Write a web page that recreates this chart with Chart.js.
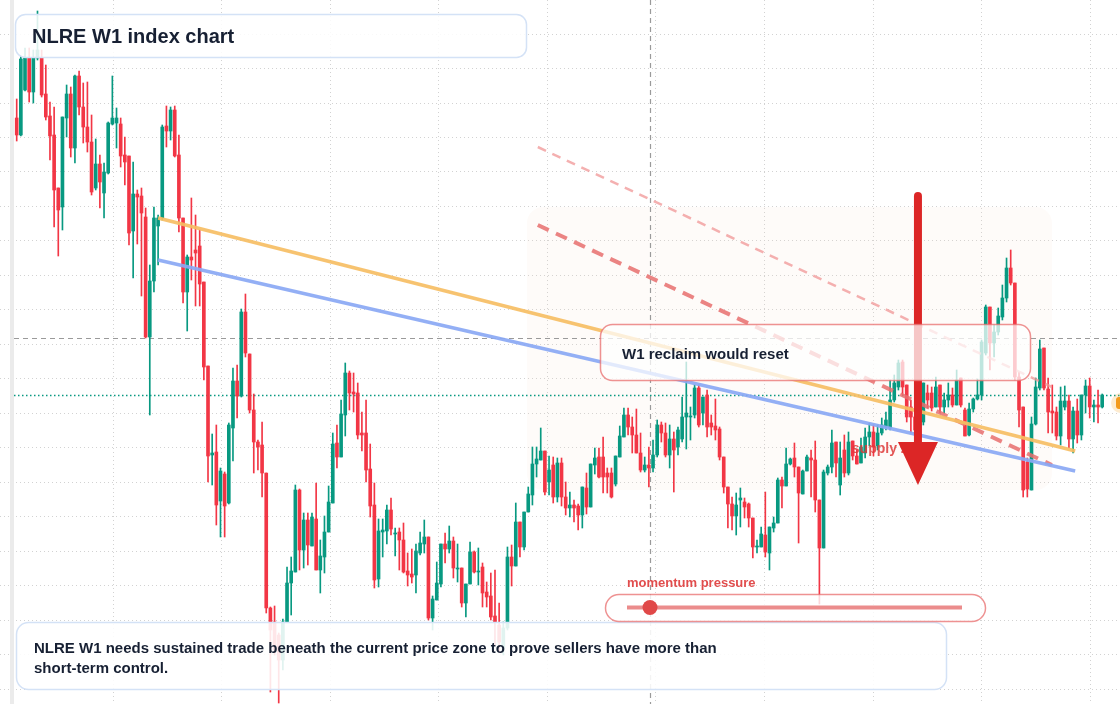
<!DOCTYPE html>
<html>
<head>
<meta charset="utf-8">
<title>NLRE W1 index chart</title>
<script src="https://cdn.jsdelivr.net/npm/chart.js@4.4.1/dist/chart.umd.min.js"></script>
<style>
  html, body { margin: 0; padding: 0; background: #fff; }
  #wrap { position: relative; width: 1120px; height: 704px; }
</style>
</head>
<body>
<div id="wrap"><canvas id="chart"></canvas></div>
<script>
// weekly candles, index level (one value per week, oldest first)
var opens = [
  882, 865, 910, 942, 908, 942, 942, 906, 884, 865,
  812, 793, 882, 906, 852, 924, 893, 873, 858, 812,
  836, 807, 827, 876, 877, 876, 845, 844, 769, 806,
  804, 783, 663, 719, 774, 782, 874, 869, 890, 845,
  782, 708, 743, 750, 754, 718, 634, 545, 548, 499,
  526, 497, 572, 619, 604, 688, 646, 590, 558, 555,
  527, 392, 378, 365, 340, 378, 417, 428, 510, 450,
  480, 454, 481, 430, 443, 468, 497, 557, 543, 585,
  627, 608, 607, 567, 567, 531, 495, 421, 468, 469,
  490, 466, 468, 460, 429, 426, 425, 447, 456, 463,
  382, 400, 416, 456, 451, 459, 431, 432, 397, 416,
  448, 428, 433, 408, 404, 384, 375, 352, 372, 443,
  434, 478, 453, 488, 505, 536, 540, 549, 518, 535,
  503, 537, 503, 492, 495, 494, 485, 512, 493, 535,
  543, 543, 527, 527, 516, 543, 563, 585, 573, 565,
  547, 530, 535, 532, 545, 575, 567, 545, 561, 553,
  561, 583, 583, 585, 612, 587, 605, 577, 574, 571,
  543, 513, 496, 484, 500, 498, 496, 482, 453, 453,
  465, 447, 472, 477, 520, 514, 536, 542, 533, 506,
  529, 542, 540, 500, 452, 527, 533, 558, 515, 550,
  527, 559, 544, 537, 547, 563, 568, 554, 567, 573,
  572, 600, 613, 638, 615, 593, 583, 570, 578, 607,
  607, 593, 615, 593, 600, 605, 595, 622, 590, 565,
  591, 601, 605, 647, 693, 657, 668, 683, 702, 732,
  717, 623, 593, 538, 510, 576, 612, 652, 611, 589,
  588, 564, 593, 599, 561, 589, 565, 605, 614, 593,
  595, 593
];
var highs = [
  901, 944, 952, 952, 950, 989, 950, 935, 898, 893,
  812, 883, 915, 913, 925, 929, 917, 918, 885, 861,
  845, 837, 878, 924, 892, 882, 863, 844, 838, 810,
  812, 792, 735, 793, 785, 875, 894, 893, 894, 865,
  782, 745, 802, 785, 770, 718, 634, 566, 575, 532,
  528, 577, 632, 635, 691, 706, 646, 606, 560, 578,
  527, 393, 394, 367, 381, 433, 443, 515, 511, 487,
  487, 487, 517, 460, 484, 514, 567, 575, 600, 637,
  629, 627, 617, 588, 600, 556, 517, 481, 481, 495,
  502, 472, 472, 477, 447, 451, 456, 468, 480, 463,
  404, 438, 456, 467, 474, 463, 456, 432, 416, 458,
  449, 452, 437, 418, 427, 430, 397, 378, 453, 455,
  497, 478, 488, 513, 553, 553, 572, 549, 544, 543,
  542, 542, 518, 508, 500, 496, 513, 527, 536, 552,
  552, 563, 532, 532, 544, 574, 592, 592, 583, 591,
  567, 543, 553, 560, 580, 578, 577, 575, 568, 573,
  603, 638, 593, 615, 615, 603, 610, 585, 601, 573,
  543, 513, 503, 507, 512, 502, 497, 482, 460, 473,
  508, 473, 483, 522, 523, 552, 542, 557, 533, 530,
  545, 550, 559, 500, 530, 535, 570, 558, 558, 565,
  568, 559, 550, 562, 572, 577, 575, 575, 582, 588,
  620, 625, 640, 640, 615, 600, 590, 588, 617, 615,
  613, 623, 615, 607, 617, 612, 630, 622, 592, 597,
  602, 621, 660, 695, 693, 675, 692, 715, 742, 750,
  717, 628, 593, 542, 583, 622, 660, 652, 622, 615,
  593, 613, 614, 605, 593, 601, 605, 620, 622, 600,
  610, 606
];
var lows = [
  859, 864, 909, 898, 897, 940, 903, 880, 840, 773,
  744, 770, 863, 843, 837, 885, 857, 848, 805, 810,
  792, 782, 826, 875, 852, 833, 815, 755, 722, 756,
  704, 662, 585, 708, 735, 780, 853, 860, 843, 768,
  697, 669, 720, 694, 694, 620, 518, 515, 475, 463,
  463, 496, 539, 582, 603, 643, 587, 527, 530, 503,
  387, 308, 345, 297, 330, 378, 385, 428, 430, 432,
  435, 454, 430, 407, 427, 468, 497, 532, 543, 564,
  590, 588, 561, 549, 518, 483, 412, 413, 443, 456,
  465, 444, 430, 427, 414, 417, 407, 445, 447, 380,
  370, 400, 413, 437, 447, 422, 418, 393, 383, 416,
  427, 415, 393, 393, 380, 355, 348, 345, 370, 414,
  434, 443, 450, 488, 495, 523, 540, 505, 505, 497,
  498, 494, 485, 483, 478, 470, 472, 486, 493, 526,
  522, 507, 507, 502, 514, 543, 563, 565, 547, 547,
  528, 528, 513, 528, 543, 558, 543, 532, 508, 545,
  558, 551, 560, 582, 573, 575, 563, 565, 560, 540,
  507, 472, 470, 465, 473, 482, 473, 442, 447, 453,
  443, 430, 468, 477, 492, 514, 535, 523, 457, 506,
  529, 503, 488, 396, 452, 525, 527, 523, 505, 523,
  525, 540, 536, 537, 542, 554, 544, 550, 565, 570,
  570, 598, 610, 605, 578, 567, 555, 565, 575, 592,
  589, 593, 587, 587, 593, 593, 595, 593, 564, 564,
  588, 600, 600, 645, 630, 643, 665, 680, 698, 715,
  620, 573, 503, 503, 510, 575, 610, 610, 567, 567,
  560, 555, 590, 552, 547, 557, 560, 587, 582, 578,
  577, 592
];
var closes = [
  865, 941, 942, 908, 942, 950, 905, 883, 864, 810,
  790, 883, 906, 852, 924, 893, 873, 858, 808, 836,
  818, 828, 877, 882, 882, 844, 838, 767, 806, 803,
  787, 663, 719, 782, 782, 873, 869, 890, 844, 782,
  708, 743, 740, 747, 716, 633, 544, 547, 495, 529,
  494, 575, 619, 604, 688, 647, 590, 558, 553, 527,
  392, 370, 350, 340, 378, 417, 429, 510, 450, 480,
  455, 483, 430, 444, 468, 498, 556, 543, 586, 627,
  607, 606, 565, 565, 530, 494, 420, 469, 470, 490,
  471, 467, 460, 428, 425, 423, 449, 457, 463, 382,
  401, 417, 456, 451, 459, 432, 432, 397, 416, 448,
  428, 429, 407, 403, 383, 378, 358, 372, 443, 434,
  478, 453, 488, 506, 536, 541, 549, 508, 530, 503,
  537, 503, 492, 495, 492, 485, 513, 493, 536, 542,
  523, 523, 523, 503, 544, 564, 585, 573, 565, 547,
  530, 535, 532, 545, 575, 567, 545, 561, 550, 570,
  583, 587, 584, 612, 575, 603, 573, 573, 570, 543,
  513, 496, 484, 495, 502, 493, 482, 453, 454, 466,
  448, 473, 477, 520, 514, 536, 541, 533, 507, 529,
  543, 540, 500, 452, 528, 533, 557, 537, 542, 527,
  558, 544, 536, 553, 563, 568, 553, 567, 575, 580,
  600, 617, 637, 613, 583, 583, 570, 580, 617, 600,
  592, 613, 593, 600, 605, 595, 620, 595, 564, 591,
  601, 605, 658, 693, 657, 668, 684, 702, 732, 717,
  623, 590, 510, 511, 576, 613, 651, 612, 588, 587,
  564, 599, 599, 561, 589, 565, 605, 614, 593, 595,
  593, 605
];

// drawn studies: [week, level] end points
var orangeTrend = [[34.0, 782], [254.5, 549]];
var blueTrend = [[34.0, 740], [254.5, 529]];
var upperDash = [[125.3, 853], [248.9, 613]];
var lowerDash = [[125.3, 775], [248.9, 535]];
var supplyZone = [122.7, 248.9, 510, 793];   // week from, week to, low, high
var crossAt = [152.3, 662];                  // week, level
var arrowAt = [216.7, 804, 558, 515];        // week, top, head base, tip
var supplyLabelAt = [200.8, 547];
var lastMarkLevel = 597;

var titleText = 'NLRE W1 index chart';
var calloutText = 'W1 reclaim would reset';
var gaugeText = 'momentum pressure';
var supplyText = 'supply zone';
var noteLines = [
  'NLRE W1 needs sustained trade beneath the current price zone to prove sellers have more than',
  'short-term control.'
];

var UP = '#089981';
var DOWN = '#f23645';
var FONT = '"Liberation Sans", Arial, sans-serif';

var bodies = [], wicks = [], candleColors = [];
for (var i = 0; i < closes.length; i++) {
  bodies.push({x: i, y: [opens[i], closes[i]]});
  wicks.push({x: i, y: [lows[i], highs[i]]});
  candleColors.push(closes[i] >= opens[i] ? UP : DOWN);
}

function pts(a) {
  return a.map(function (p) { return {x: p[0], y: p[1]}; });
}

function rr(ctx, x, y, w, h, r) {
  ctx.beginPath();
  ctx.moveTo(x + r, y);
  ctx.arcTo(x + w, y, x + w, y + h, r);
  ctx.arcTo(x + w, y + h, x, y + h, r);
  ctx.arcTo(x, y + h, x, y, r);
  ctx.arcTo(x, y, x + w, y, r);
  ctx.closePath();
}

var decor = {
  id: 'decor',
  beforeDatasetsDraw: function (chart) {
    var ctx = chart.ctx, xs = chart.scales.x, ys = chart.scales.y, a = chart.chartArea;
    ctx.save();
    // left rail
    ctx.fillStyle = '#ebebeb';
    ctx.fillRect(10, a.top, 4, a.bottom - a.top);

    // faint supply area
    var zx0 = xs.getPixelForValue(supplyZone[0]), zx1 = xs.getPixelForValue(supplyZone[1]);
    var zy0 = ys.getPixelForValue(supplyZone[3]), zy1 = ys.getPixelForValue(supplyZone[2]);
    rr(ctx, zx0, zy0, zx1 - zx0, zy1 - zy0, 16);
    ctx.fillStyle = 'rgba(244,222,205,0.12)';
    ctx.fill();

    // crosshair
    ctx.setLineDash([5, 4]);
    ctx.strokeStyle = '#9a9a9a';
    ctx.lineWidth = 1.2;
    var cx = Math.round(xs.getPixelForValue(crossAt[0])) + 0.5;
    ctx.beginPath(); ctx.moveTo(cx, a.top); ctx.lineTo(cx, a.bottom); ctx.stroke();
    var cy = Math.round(ys.getPixelForValue(crossAt[1])) + 0.5;
    ctx.beginPath(); ctx.moveTo(14, cy); ctx.lineTo(a.right, cy); ctx.stroke();

    // last close line
    var ly = Math.round(ys.getPixelForValue(closes[closes.length - 1])) + 0.5;
    ctx.setLineDash([1.5, 2.5]);
    ctx.strokeStyle = UP;
    ctx.lineWidth = 1.5;
    ctx.beginPath(); ctx.moveTo(14, ly); ctx.lineTo(a.right, ly); ctx.stroke();
    ctx.restore();
  },
  afterDatasetsDraw: function (chart) {
    var ctx = chart.ctx, xs = chart.scales.x, ys = chart.scales.y, a = chart.chartArea;
    ctx.save();

    // supply label
    ctx.font = 'bold 14px ' + FONT;
    ctx.fillStyle = 'rgba(222,58,58,0.85)';
    ctx.textBaseline = 'alphabetic';
    ctx.fillText(supplyText, xs.getPixelForValue(supplyLabelAt[0]), ys.getPixelForValue(supplyLabelAt[1]));

    // big arrow
    var ax = xs.getPixelForValue(arrowAt[0]);
    var aTop = ys.getPixelForValue(arrowAt[1]);
    var aBase = ys.getPixelForValue(arrowAt[2]);
    var aTip = ys.getPixelForValue(arrowAt[3]);
    ctx.strokeStyle = '#dc2626';
    ctx.lineWidth = 8;
    ctx.lineCap = 'round';
    ctx.beginPath(); ctx.moveTo(ax, aTop); ctx.lineTo(ax, aBase + 4); ctx.stroke();
    ctx.fillStyle = '#dc2626';
    ctx.beginPath();
    ctx.moveTo(ax - 20, aBase); ctx.lineTo(ax + 20, aBase); ctx.lineTo(ax, aTip);
    ctx.closePath(); ctx.fill();

    // callout
    rr(ctx, 600.5, 324.5, 430, 56, 12);
    ctx.fillStyle = 'rgba(255,255,255,0.74)';
    ctx.fill();
    ctx.strokeStyle = 'rgba(232,110,110,0.75)';
    ctx.lineWidth = 1.5;
    ctx.stroke();
    ctx.font = 'bold 15px ' + FONT;
    ctx.fillStyle = '#172033';
    ctx.fillText(calloutText, 622, 359);

    // title
    rr(ctx, 15.5, 14.5, 511, 43, 10);
    ctx.fillStyle = 'rgba(255,255,255,0.86)';
    ctx.fill();
    ctx.strokeStyle = '#d4e2f6';
    ctx.lineWidth = 1.5;
    ctx.stroke();
    ctx.font = 'bold 20px ' + FONT;
    ctx.fillStyle = '#172033';
    ctx.fillText(titleText, 32, 43);

    // note box
    rr(ctx, 16.5, 622.5, 930, 67, 12);
    ctx.fillStyle = 'rgba(255,255,255,0.88)';
    ctx.fill();
    ctx.strokeStyle = '#d4e2f6';
    ctx.lineWidth = 1.5;
    ctx.stroke();
    ctx.font = 'bold 15px ' + FONT;
    ctx.fillStyle = '#172033';
    ctx.fillText(noteLines[0], 34, 653);
    ctx.fillText(noteLines[1], 34, 673);

    // momentum gauge
    ctx.font = 'bold 13px ' + FONT;
    ctx.fillStyle = 'rgba(222,58,58,0.9)';
    ctx.fillText(gaugeText, 627, 587);
    rr(ctx, 605.5, 594.5, 380, 27, 13.5);
    ctx.fillStyle = 'rgba(255,255,255,0.8)';
    ctx.fill();
    ctx.strokeStyle = 'rgba(232,110,110,0.75)';
    ctx.lineWidth = 1.5;
    ctx.stroke();
    ctx.strokeStyle = 'rgba(232,120,120,0.85)';
    ctx.lineWidth = 4;
    ctx.lineCap = 'butt';
    ctx.beginPath(); ctx.moveTo(627, 607.5); ctx.lineTo(962, 607.5); ctx.stroke();
    ctx.fillStyle = '#e04848';
    ctx.beginPath(); ctx.arc(650, 607.5, 7.5, 0, Math.PI * 2); ctx.fill();

    // last value marker at the right edge
    var my = ys.getPixelForValue(lastMarkLevel);
    ctx.fillStyle = 'rgba(245,166,35,0.22)';
    ctx.beginPath(); ctx.arc(a.right + 1, my, 10, 0, Math.PI * 2); ctx.fill();
    ctx.fillStyle = '#f39a1c';
    rr(ctx, a.right - 4, my - 6, 10, 12, 3);
    ctx.fill();
    ctx.restore();
  }
};

new Chart(document.getElementById('chart'), {
  type: 'bar',
  data: {
    datasets: [
      {
        type: 'line', data: pts(orangeTrend), borderColor: 'rgba(246,190,100,0.92)',
        borderWidth: 3.5, pointRadius: 0, order: 0
      },
      {
        type: 'line', data: pts(blueTrend), borderColor: 'rgba(138,168,244,0.92)',
        borderWidth: 3.5, pointRadius: 0, order: 0
      },
      {
        type: 'line', data: pts(upperDash), borderColor: 'rgba(240,150,150,0.75)',
        borderWidth: 2.5, borderDash: [9, 7], pointRadius: 0, order: 0
      },
      {
        type: 'line', data: pts(lowerDash), borderColor: 'rgba(232,110,110,0.85)',
        borderWidth: 4, borderDash: [12, 8], pointRadius: 0, order: 0
      },
      {
        data: bodies, backgroundColor: candleColors, barThickness: 3,
        minBarLength: 1, grouped: false, order: 1
      },
      {
        data: wicks, backgroundColor: candleColors, barThickness: 1,
        grouped: false, order: 2
      }
    ]
  },
  options: {
    responsive: true,
    maintainAspectRatio: false,
    animation: false,
    devicePixelRatio: 1,
    layout: { padding: 0 },
    plugins: { legend: { display: false }, tooltip: { enabled: false } },
    scales: {
      x: {
        type: 'linear', min: -4.015, max: 265.28, offset: false,
        grid: { color: '#d2d2d2', lineWidth: 1, drawTicks: false, offset: false },
        border: { display: false, dash: [1, 3] },
        ticks: { display: false },
        afterBuildTicks: function (s) {
          var t = [];
          for (var v = 23.2; v < 265; v += 26.1) t.push({value: v});
          s.ticks = t;
        }
      },
      y: {
        min: 296, max: 1000, beginAtZero: false,
        grid: { color: '#d2d2d2', lineWidth: 1, drawTicks: false },
        border: { display: false, dash: [1, 3] },
        ticks: { display: false },
        afterBuildTicks: function (s) {
          var t = [];
          for (var k = 0; k < 20; k++) t.push({value: 311 + 34.47 * k});
          s.ticks = t;
        }
      }
    }
  },
  plugins: [decor]
});
</script>
</body>
</html>
